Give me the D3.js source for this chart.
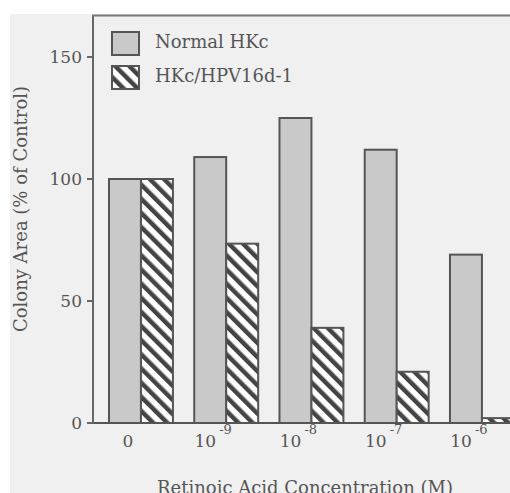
<!DOCTYPE html>
<html>
<head>
<meta charset="utf-8">
<script src="https://d3js.org/d3.v7.min.js"></script>
<style>
  body { margin: 0; background: #f0f0f0; }
  text { font-family: "DejaVu Serif", serif; fill: #555; }
</style>
</head>
<body>
<script>
// data
var concentrations = ["0", "-9", "-8", "-7", "-6"];   // exponents, "0" = control
var normalHKc = [100, 109, 125, 112, 69];
var hpvHKc = [100, 73.5, 39, 21, 2];
var seriesNames = ["Normal HKc", "HKc/HPV16d-1"];
var yTicks = [0, 50, 100, 150];

var W = 510, H = 493;
var svg = d3.select("body").append("svg").attr("width", W).attr("height", H);

// white paper edge top/left
svg.append("rect").attr("width", W).attr("height", H).attr("fill", "#f0f0f0");
svg.append("rect").attr("width", W).attr("height", 14).attr("fill", "#fff");
svg.append("rect").attr("width", 10).attr("height", H).attr("fill", "#fff");

// hatch pattern
var defs = svg.append("defs");
var pat = defs.append("pattern").attr("id", "hatch").attr("patternUnits", "userSpaceOnUse")
  .attr("width", 10).attr("height", 10).attr("patternTransform", "rotate(-45)");
pat.append("rect").attr("width", 10).attr("height", 10).attr("fill", "#fff");
pat.append("rect").attr("x", 0).attr("width", 4.5).attr("height", 10).attr("fill", "#444");

var x = d3.scaleBand().domain(concentrations).range([92.8, 530.1]).paddingInner(0.25).paddingOuter(0.19);
var xs = d3.scaleBand().domain([0, 1]).range([0, x.bandwidth()]);
var y = d3.scaleLinear().domain([0, 150]).range([423, 57]);
var yTop = 167;

var rows = concentrations.map(function(c, i) { return {c: c, v: [normalHKc[i], hpvHKc[i]]}; });

// bars
var g = svg.selectAll("g.grp").data(rows).enter().append("g")
  .attr("transform", function(d) { return "translate(" + x(d.c) + ",0)"; });
g.selectAll("rect").data(function(d) { return d.v; }).enter().append("rect")
  .attr("x", function(d, i) { return xs(i); })
  .attr("y", function(d) { return y(d); })
  .attr("width", xs.bandwidth())
  .attr("height", function(d) { return y(0) - y(d); })
  .attr("fill", function(d, i) { return i == 0 ? "#c9c9c9" : "url(#hatch)"; })
  .attr("stroke", "#555").attr("stroke-width", 2);

// axes frame
svg.append("line").attr("x1", 93).attr("x2", W).attr("y1", y(0)).attr("y2", y(0))
  .attr("stroke", "#555").attr("stroke-width", 2);
svg.append("line").attr("x1", 93).attr("x2", 93).attr("y1", y(0) + 1).attr("y2", y(yTop))
  .attr("stroke", "#666").attr("stroke-width", 2);
svg.append("line").attr("x1", 92).attr("x2", W).attr("y1", y(yTop)).attr("y2", y(yTop))
  .attr("stroke", "#777").attr("stroke-width", 2);

// y ticks
var yt = svg.selectAll("g.yt").data(yTicks).enter().append("g");
yt.append("line").attr("x1", 87).attr("x2", 93)
  .attr("y1", function(d) { return y(d); }).attr("y2", function(d) { return y(d); })
  .attr("stroke", "#666").attr("stroke-width", 2);
yt.append("text").attr("x", 82).attr("y", function(d) { return y(d) + 6; })
  .attr("text-anchor", "end").attr("font-size", 17).text(function(d) { return d; });

// x labels
var xl = svg.selectAll("text.xl").data(concentrations).enter().append("text")
  .attr("x", function(d) { return x(d) + x.bandwidth() / 2 - 13; })
  .attr("y", 447).attr("text-anchor", "middle").attr("font-size", 17);
xl.each(function(d) {
  var t = d3.select(this);
  if (d == "0") { t.text("0"); return; }
  t.append("tspan").text("10");
  t.append("tspan").attr("dy", -13).attr("dx", 3).attr("font-size", 13).text(d);
});

// axis titles
svg.append("text").attr("x", 305).attr("y", 494).attr("text-anchor", "middle")
  .attr("font-size", 18).text("Retinoic Acid Concentration (M)");
svg.append("text").attr("transform", "translate(27,209) rotate(-90)").attr("text-anchor", "middle")
  .attr("font-size", 18).text("Colony Area (% of Control)");

// legend
var lg = svg.selectAll("g.lg").data(seriesNames).enter().append("g")
  .attr("transform", function(d, i) { return "translate(112," + (32 + i * 34) + ")"; });
lg.append("rect").attr("width", 27).attr("height", 23)
  .attr("fill", function(d, i) { return i == 0 ? "#c9c9c9" : "url(#hatch)"; })
  .attr("stroke", "#555").attr("stroke-width", 2);
lg.append("text").attr("x", 43).attr("y", 16).attr("font-size", 18).text(function(d) { return d; });
</script>
</body>
</html>
